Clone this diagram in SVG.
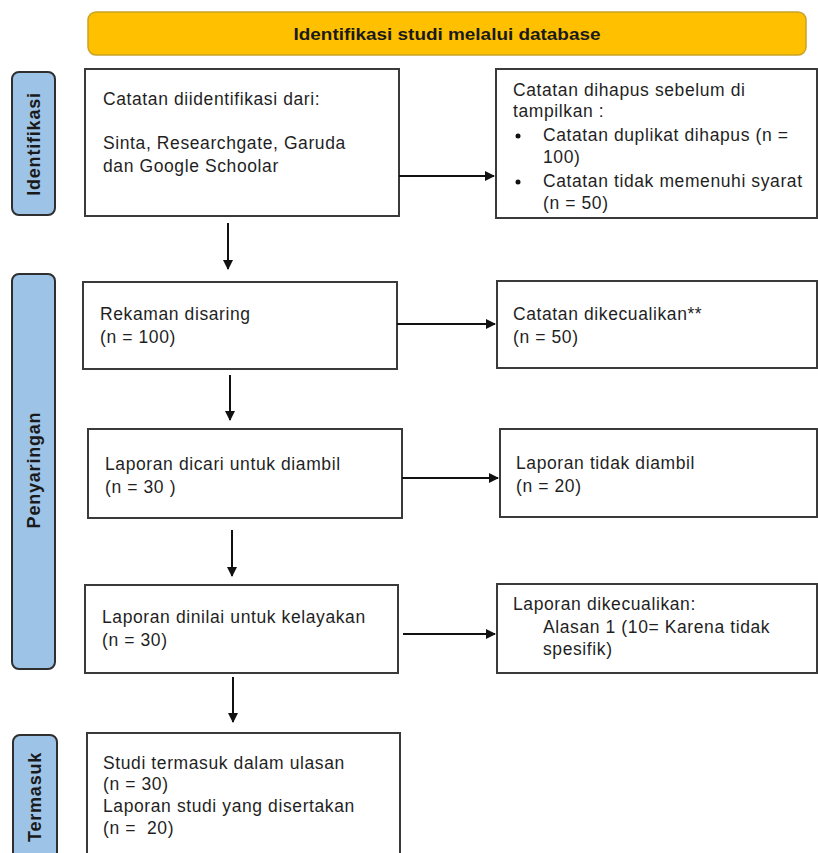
<svg xmlns="http://www.w3.org/2000/svg" width="818" height="853" viewBox="0 0 818 853">
<style>
.box{fill:#fff;stroke:#3a3a3a;stroke-width:2}
.side{fill:#9dc3e6;stroke:#2f2f2f;stroke-width:2}
.t{font-family:"Liberation Sans",Arial,sans-serif;font-size:17.5px;letter-spacing:0.6px;fill:#1f1f1f;white-space:pre}
.s{font-family:"Liberation Sans",Arial,sans-serif;font-size:18px;letter-spacing:0.8px;font-weight:bold;fill:#1a1a1a}
.h{font-family:"Liberation Sans",Arial,sans-serif;font-size:17px;font-weight:bold;fill:#1a1a1a}
.c{stroke:#111;stroke-width:2;fill:none;marker-end:url(#ah)}
</style>
<defs>
<marker id="ah" markerWidth="10" markerHeight="10" refX="9" refY="5" orient="auto" markerUnits="userSpaceOnUse">
<path d="M0,0 L10,5 L0,10 Z" fill="#111"/>
</marker>
</defs>
<rect width="818" height="853" fill="#fff"/>
<g id="header">
<rect x="88" y="12" width="718" height="43" rx="8" fill="#ffc000" stroke="#c9a227" stroke-width="1.5"/>
<text class="h" x="447" y="40" text-anchor="middle" textLength="307" lengthAdjust="spacingAndGlyphs">Identifikasi studi melalui database</text>
</g>
<g id="lbl-identifikasi">
<rect class="side" x="12" y="72" width="43" height="143" rx="7"/>
<text class="s" transform="translate(40,144) rotate(-90)" text-anchor="middle">Identifikasi</text>
</g>
<g id="lbl-penyaringan">
<rect class="side" x="12" y="274" width="43" height="395" rx="7"/>
<text class="s" transform="translate(40,470) rotate(-90)" text-anchor="middle">Penyaringan</text>
</g>
<g id="lbl-termasuk">
<rect class="side" x="13" y="735" width="44" height="140" rx="7"/>
<text class="s" transform="translate(41,797) rotate(-90)" text-anchor="middle">Termasuk</text>
</g>
<g id="n-identified">
<rect class="box" x="85" y="69" width="314" height="147"/>
<text class="t" x="103" y="105">Catatan diidentifikasi dari:</text>
<text class="t" x="103" y="149">Sinta, Researchgate, Garuda</text>
<text class="t" x="103" y="172">dan Google Schoolar</text>
</g>
<g id="n-removed">
<rect class="box" x="496" y="69" width="321" height="149"/>
<text class="t" x="513" y="96">Catatan dihapus sebelum di</text>
<text class="t" x="513" y="117">tampilkan :</text>
<circle cx="518" cy="136" r="2.5" fill="#111"/>
<text class="t" x="543" y="141">Catatan duplikat dihapus (n =</text>
<text class="t" x="543" y="163">100)</text>
<circle cx="518" cy="182" r="2.5" fill="#111"/>
<text class="t" x="543" y="187">Catatan tidak memenuhi syarat</text>
<text class="t" x="543" y="209">(n = 50)</text>
</g>
<g id="n-screened">
<rect class="box" x="83" y="282" width="314" height="87"/>
<text class="t" x="100" y="320">Rekaman disaring</text>
<text class="t" x="100" y="343">(n = 100)</text>
</g>
<g id="n-excluded">
<rect class="box" x="497" y="281" width="320" height="87"/>
<text class="t" x="513" y="320">Catatan dikecualikan**</text>
<text class="t" x="513" y="343">(n = 50)</text>
</g>
<g id="n-sought">
<rect class="box" x="88" y="429" width="314" height="89"/>
<text class="t" x="105" y="470">Laporan dicari untuk diambil</text>
<text class="t" x="105" y="493">(n = 30 )</text>
</g>
<g id="n-notretrieved">
<rect class="box" x="500" y="429" width="317" height="88"/>
<text class="t" x="516" y="469">Laporan tidak diambil</text>
<text class="t" x="516" y="492">(n = 20)</text>
</g>
<g id="n-assessed">
<rect class="box" x="85" y="585" width="313" height="88"/>
<text class="t" x="102" y="623">Laporan dinilai untuk kelayakan</text>
<text class="t" x="102" y="646">(n = 30)</text>
</g>
<g id="n-reportsexcluded">
<rect class="box" x="497" y="584" width="320" height="89"/>
<text class="t" x="513" y="610">Laporan dikecualikan:</text>
<text class="t" x="543" y="633">Alasan 1 (10= Karena tidak</text>
<text class="t" x="543" y="655">spesifik)</text>
</g>
<g id="n-included">
<rect class="box" x="87" y="733" width="313" height="140"/>
<text class="t" x="103" y="769">Studi termasuk dalam ulasan</text>
<text class="t" x="103" y="790">(n = 30)</text>
<text class="t" x="103" y="812">Laporan studi yang disertakan</text>
<text class="t" x="103" y="834">(n =  20)</text>
</g>
<g id="connectors">
<line class="c" x1="399" y1="176" x2="494" y2="176"/>
<line class="c" x1="228" y1="223" x2="228" y2="269"/>
<line class="c" x1="397" y1="324" x2="495" y2="324"/>
<line class="c" x1="230" y1="375" x2="230" y2="420"/>
<line class="c" x1="402" y1="478" x2="498" y2="478"/>
<line class="c" x1="232" y1="530" x2="232" y2="576"/>
<line class="c" x1="403" y1="634" x2="495" y2="634"/>
<line class="c" x1="233" y1="677" x2="233" y2="722"/>
</g>
</svg>
